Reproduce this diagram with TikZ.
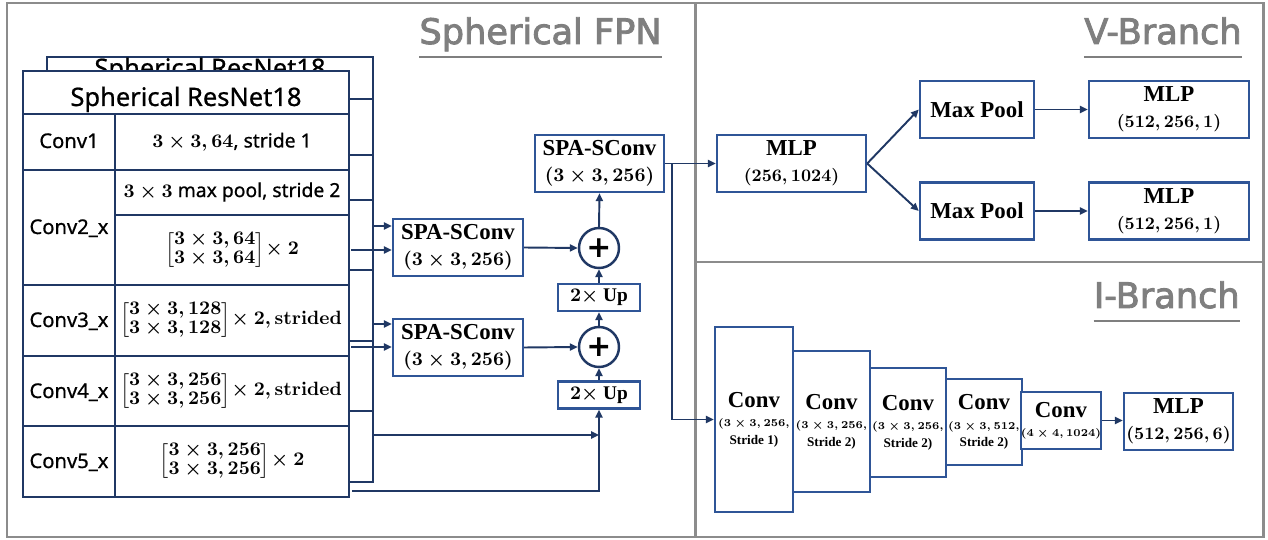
\documentclass[tikz,border=0pt]{standalone}
\usepackage{amsmath}
\usepackage{fontspec}
\usetikzlibrary{arrows.meta,calc}
\newfontfamily\tabfont[FakeBold=0.8]{Noto Sans}
\newfontfamily\headfont[FakeBold=2.5]{DejaVu Sans}
\newfontfamily\plusfont{DejaVu Sans}
\newfontfamily\blkfont{Liberation Serif}
\definecolor{framegray}{HTML}{8C8C8C}
\definecolor{headgray}{HTML}{7F7F7F}
\definecolor{boxblue}{HTML}{2F5597}
\definecolor{navy}{HTML}{203864}
\newcommand{\sml}{\fontsize{6.3}{7.5}\selectfont}
\newcommand{\smt}{\fontsize{7.5}{8.5}\selectfont}
\tikzset{
  sz/.style 2 args={minimum width=#1*0.02cm, minimum height=#2*0.02cm},
  blk/.style={draw=boxblue, line width=1.4pt, fill=white, inner sep=0pt, align=center,
    font=\blkfont\bfseries\boldmath\fontsize{13}{15}\selectfont},
  tabline/.style={draw=navy, line width=1.3pt},
  arr/.style={->, navy, line width=1.1pt},
  head/.style={font=\headfont\fontsize{20}{24}\selectfont, text=headgray, inner sep=0pt, anchor=base east},
  cell/.style={font=\tabfont\boldmath\fontsize{11.5}{13}\selectfont, inner sep=0pt, anchor=base},
  mid/.style={font=\tabfont\boldmath\fontsize{11}{13}\selectfont\def\arraystretch{0.82}, inner sep=0pt},
  plus/.style={circle, draw=navy, line width=1.4pt, fill=white, inner sep=0pt, minimum size=0.8cm,
    font=\plusfont\bfseries\fontsize{17}{17}\selectfont}
}

\begin{document}
\begin{tikzpicture}[x=0.02cm, y=-0.02cm, >={Triangle[length=4.5pt,width=4pt]}]
  \useasboundingbox (0,0) rectangle (1268,540);

  % frame and panels
  \draw[framegray, line width=1.7pt] (7,3) rectangle (1263,537);
  \draw[framegray, line width=1.7pt] (695,3) -- (695,537);
  \draw[framegray, line width=1.7pt] (695,262) -- (1263,262);

  % panel titles
  \node[head] (fpn) at (662,44) {Spherical FPN};
  \node[head] (vbr) at (1242,44) {V-Branch};
  \node[head] (ibr) at (1240,308) {I-Branch};
  \foreach \t in {fpn,vbr,ibr}
    \draw[headgray, line width=1.6pt] ($(\t.base west)+(0,13)$) -- ($(\t.base east)+(0,13)$);

  % back copy of the table
  \draw[tabline, fill=white] (47,57) rectangle (373,482);
  \foreach \y in {99,155,270,341,411} \draw[tabline] (47,\y) -- (373,\y);
  \draw[tabline] (139,200) -- (373,200);
  \draw[tabline] (139,99) -- (139,482);
  \node[cell, font=\tabfont\fontsize{14.5}{16}\selectfont] (backtitle) at (210,77) {Spherical ResNet18};

  % front table
  \draw[tabline, fill=white] (23,71) rectangle (349,497);
  \foreach \y in {114,170,285,356,426} \draw[tabline] (23,\y) -- (349,\y);
  \draw[tabline] (115,215) -- (349,215);
  \draw[tabline] (115,114) -- (115,497);
  \node[cell, font=\tabfont\fontsize{14.5}{16}\selectfont] (title) at (186,106) {Spherical ResNet18};
  \node[cell] (conv1) at (69,148) {Conv1};
  \node[cell] (conv2) at (69,234) {Conv2\_x};
  \node[cell] (conv3) at (69,327) {Conv3\_x};
  \node[cell] (conv4) at (69,398) {Conv4\_x};
  \node[cell] (conv5) at (69,468) {Conv5\_x};
  \node[mid] (l1) at (232,142) {$3\times3,64$, stride 1};
  \node[mid] (l2a) at (232,192) {$3\times3$ max pool, stride 2};
  \node[mid] (l2b) at (232,250) {$\begin{bmatrix}3\times3,64\\3\times3,64\end{bmatrix}\!\times2$};
  \node[mid, font=\tabfont\boldmath\fontsize{10.5}{13}\selectfont\def\arraystretch{0.82}] (l3) at (231,320)
    {$\begin{bmatrix}3\times3,128\\3\times3,128\end{bmatrix}\!\times2,\mathbf{strided}$};
  \node[mid, font=\tabfont\boldmath\fontsize{10.5}{13}\selectfont\def\arraystretch{0.82}] (l4) at (231,391)
    {$\begin{bmatrix}3\times3,256\\3\times3,256\end{bmatrix}\!\times2,\mathbf{strided}$};
  \node[mid] (l5) at (232,461) {$\begin{bmatrix}3\times3,256\\3\times3,256\end{bmatrix}\!\times2$};

  % taps on the two tables
  \coordinate (b2) at (373,226);
  \coordinate (f2) at (351,250);
  \coordinate (b3) at (373,324);
  \coordinate (f3) at (351,347);
  \coordinate (b5) at (373,435);
  \coordinate (f5) at (352,491);

  % FPN blocks
  \node[blk, sz={130}{57}] (spa1) at (458,247.5) {SPA-SConv\\{\fontsize{10.5}{12}\selectfont$(3\times3,256)$}};
  \node[blk, sz={130}{57}] (spa2) at (458,347.5) {SPA-SConv\\{\fontsize{10.5}{12}\selectfont$(3\times3,256)$}};
  \node[blk, sz={129}{57}] (spa3) at (599.5,163.5) {SPA-SConv\\{\fontsize{10.5}{12}\selectfont$(3\times3,256)$}};
  \node[plus] (plus1) at (599,248) {+};
  \node[plus] (plus2) at (599,347) {+};
  \node[blk, sz={82}{27}, font=\blkfont\bfseries\boldmath\fontsize{11}{12}\selectfont] (up1) at (599,297.5) {$2\times$ Up};
  \node[blk, sz={82}{27}, font=\blkfont\bfseries\boldmath\fontsize{11}{12}\selectfont] (up2) at (599,395) {$2\times$ Up};

  \draw[arr] (b2) -- (b2 -| spa1.west);
  \draw[arr] (f2) -- (f2 -| spa1.west);
  \draw[arr] (b3) -- (b3 -| spa2.west);
  \draw[arr] (f3) -- (f3 -| spa2.west);
  \draw[arr] (b5) -- (b5 -| up2.south);
  \draw[arr] (f5) -| (up2.south);
  \draw[arr] (spa1.east) -- (plus1.west);
  \draw[arr] (spa2.east) -- (plus2.west);
  \draw[arr] (up2.north) -- (plus2.south);
  \draw[arr] (plus2.north) -- (up1.south);
  \draw[arr] (up1.north) -- (plus1.south);
  \draw[arr] (plus1.north) -- (spa3.south);

  % V-Branch
  \node[blk, sz={149}{57}] (mlpv) at (791.5,163.5) {MLP\\{\fontsize{10}{12}\selectfont$(256,1024)$}};
  \node[blk, sz={114}{57}] (mp1) at (977,109.5) {Max Pool};
  \node[blk, sz={114}{57}] (mp2) at (977,211) {Max Pool};
  \node[blk, sz={160}{57}] (mlp1) at (1169,109.5) {MLP\\{\fontsize{10}{12}\selectfont$(512,256,1)$}};
  \node[blk, sz={160}{57}] (mlp2) at (1169,211) {MLP\\{\fontsize{10}{12}\selectfont$(512,256,1)$}};
  \draw[arr] (spa3.east) -- (mlpv.west);
  \draw[arr] (mlpv.east) -- (mp1.west);
  \draw[arr] (mlpv.east) -- (mp2.west);
  \draw[arr] (mp1.east) -- (mlp1.west);
  \draw[arr] (mp2.east) -- (mlp2.west);

  % I-Branch
  \node[blk, sz={78}{185}] (c1) at (754,419.5) {Conv\\[-4pt]{\sml$(3\times3,256,$}\\[-5pt]{\smt Stride 1)}};
  \node[blk, sz={77}{141}] (c2) at (831.5,421.5) {Conv\\[-4pt]{\sml$(3\times3,256,$}\\[-5pt]{\smt Stride 2)}};
  \node[blk, sz={76}{109}] (c3) at (908,422.5) {Conv\\[-4pt]{\sml$(3\times3,256,$}\\[-5pt]{\smt Stride 2)}};
  \node[blk, sz={76}{86}] (c4) at (984,422) {Conv\\[-4pt]{\sml$(3\times3,512,$}\\[-5pt]{\smt Stride 2)}};
  \node[blk, sz={78}{57}] (c5) at (1061,420.5) {Conv\\[-4pt]{\sml$(4\times4,1024)$}};
  \node[blk, sz={109}{57}] (mlpi) at (1178.5,421.5) {MLP\\{\fontsize{10}{12}\selectfont$(512,256,6)$}};
  \coordinate (split) at (672,163.5);
  \draw[arr] (split) |- (c1.west);
  \draw[arr] (c5.east) -- (c5.east -| mlpi.west);
\end{tikzpicture}
\end{document}
